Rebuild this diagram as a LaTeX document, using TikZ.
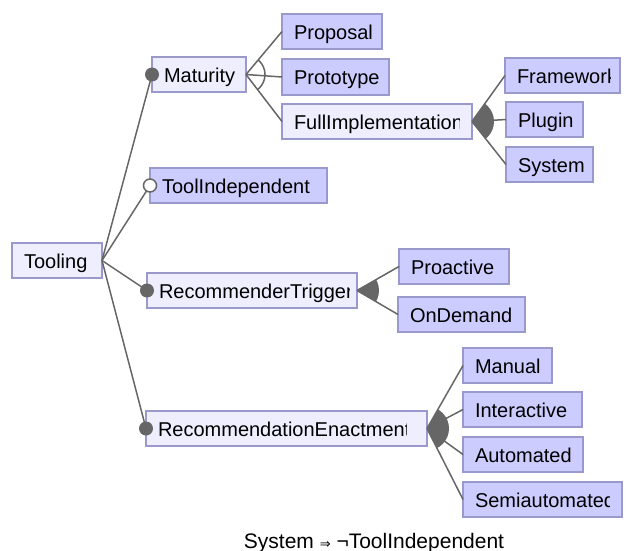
\documentclass[tikz,border=0pt]{standalone}
\usepackage{fontspec}
\setmainfont{Liberation Sans}
\newfontfamily\symfont{DejaVu Sans}
\definecolor{leaf}{HTML}{CCCCFF}
\definecolor{abst}{HTML}{EEEEFF}
\definecolor{bord}{HTML}{9999CC}
\definecolor{edgecol}{HTML}{666666}
\tikzset{
 feat/.style={draw=bord, line width=1.5pt, anchor=north west, inner sep=0pt, outer sep=0pt, minimum height=35pt},
 ftext/.style 2 args={path picture={
   \clip ([xshift=2pt]path picture bounding box.south west) rectangle ([xshift=-#2pt]path picture bounding box.north east);
   \node[anchor=base west, inner sep=0pt, minimum width=0pt, minimum height=0pt, draw=none, fill=none, text=black, font=\fontsize{20}{24}\selectfont] at ([xshift=12pt,yshift=-7.8pt]path picture bounding box.west) {#1};
 }},
 conn/.style={draw=edgecol, line width=1.5pt},
 mand/.style={circle, fill=edgecol, inner sep=0pt, minimum size=14pt},
 opt/.style={circle, draw=edgecol, fill=white, line width=1.5pt, inner sep=0pt, minimum size=13pt},
}
\begin{document}
\begin{tikzpicture}[x=1pt,y=-1pt]
\useasboundingbox (0,0) rectangle (627,551);
% features
\node[feat, fill=abst, minimum width=90pt, ftext={Tooling}{3}] (tooling) at (12,243) {};
\node[feat, fill=abst, minimum width=94pt, ftext={Maturity}{3}] (maturity) at (152,57) {};
\node[feat, fill=leaf, minimum width=100pt, ftext={Proposal}{3}] (proposal) at (282,14) {};
\node[feat, fill=leaf, minimum width=107pt, minimum height=36pt, ftext={Prototype}{3}] (prototype) at (282,59) {};
\node[feat, fill=abst, minimum width=190pt, ftext={FullImplementation}{13}] (fullimpl) at (282,104) {};
\node[feat, fill=leaf, minimum width=115pt, ftext={Framework}{9.5}] (framework) at (505,58) {};
\node[feat, fill=leaf, minimum width=77pt, ftext={Plugin}{3}] (plugin) at (506,102) {};
\node[feat, fill=leaf, minimum width=87pt, ftext={System}{3}] (system) at (506,147) {};
\node[feat, fill=leaf, minimum width=177pt, ftext={ToolIndependent}{3}] (toolind) at (150,168) {};
\node[feat, fill=abst, minimum width=210pt, ftext={RecommenderTrigger}{8}] (trigger) at (147,273) {};
\node[feat, fill=leaf, minimum width=110pt, ftext={Proactive}{3}] (proactive) at (399,249) {};
\node[feat, fill=leaf, minimum width=127pt, ftext={OnDemand}{3}] (ondemand) at (398,297) {};
\node[feat, fill=abst, minimum width=281pt, ftext={RecommendationEnactment}{21}] (enact) at (146,411) {};
\node[feat, fill=leaf, minimum width=89pt, ftext={Manual}{3}] (manual) at (463,348) {};
\node[feat, fill=leaf, minimum width=119pt, ftext={Interactive}{3}] (interactive) at (463,392) {};
\node[feat, fill=leaf, minimum width=120pt, ftext={Automated}{3}] (automated) at (463,437) {};
\node[feat, fill=leaf, minimum width=159pt, ftext={Semiautomated}{13}] (semiauto) at (463,482) {};
% connectors from root
\draw[conn] (tooling.east) -- (maturity.west);
\draw[conn] (tooling.east) -- (toolind.west);
\draw[conn] (tooling.east) -- (trigger.west);
\draw[conn] (tooling.east) -- (enact.west);
\node[mand] (dmaturity) at (maturity.west) {};
\node[opt] (dtoolind) at (toolind.west) {};
\node[mand] (dtrigger) at (trigger.west) {};
\node[mand] (denact) at (enact.west) {};
% Maturity: alternative group
\draw[conn] (maturity.east) -- (proposal.west);
\draw[conn] (maturity.east) -- (prototype.west);
\draw[conn] (maturity.east) -- (fullimpl.west);
\begin{scope}
\clip (maturity.east) -- (proposal.west) -- (fullimpl.west) -- cycle;
\draw[conn] (maturity.east) circle (19pt);
\end{scope}
% FullImplementation: or group
\draw[conn] (fullimpl.east) -- (framework.west);
\draw[conn] (fullimpl.east) -- (plugin.west);
\draw[conn] (fullimpl.east) -- (system.west);
\begin{scope}
\clip (fullimpl.east) -- (framework.west) -- (system.west) -- cycle;
\fill[edgecol] (fullimpl.east) circle (22pt);
\end{scope}
% RecommenderTrigger: or group
\draw[conn] (trigger.east) -- (proactive.west);
\draw[conn] (trigger.east) -- (ondemand.west);
\begin{scope}
\clip (trigger.east) -- (proactive.west) -- (ondemand.west) -- cycle;
\fill[edgecol] (trigger.east) circle (22pt);
\end{scope}
% RecommendationEnactment: or group
\draw[conn] (enact.east) -- (manual.west);
\draw[conn] (enact.east) -- (interactive.west);
\draw[conn] (enact.east) -- (automated.west);
\draw[conn] (enact.east) -- (semiauto.west);
\begin{scope}
\clip (enact.east) -- (manual.west) -- (semiauto.west) -- cycle;
\fill[edgecol] (enact.east) circle (22pt);
\end{scope}
% constraint
\node[font=\fontsize{21}{24}\selectfont, inner sep=0pt, anchor=base] (constraint) at (374,548) {System {\symfont\fontsize{13}{13}\selectfont ⇒} ¬ToolIndependent};
\end{tikzpicture}
\end{document}
